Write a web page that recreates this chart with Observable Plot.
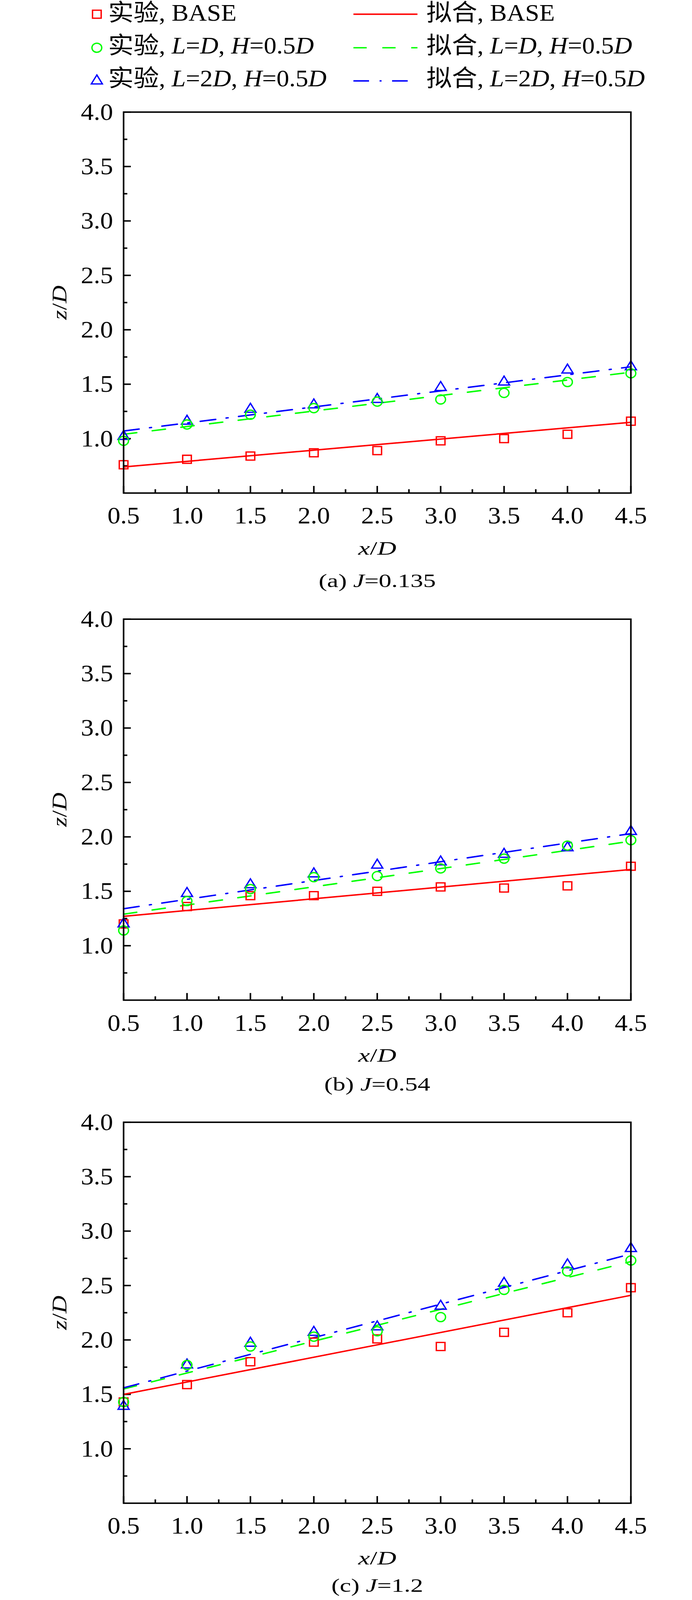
<!DOCTYPE html>
<html>
<head>
<meta charset="utf-8">
<script src="https://cdn.jsdelivr.net/npm/d3@7"></script>
<script src="https://cdn.jsdelivr.net/npm/@observablehq/plot@0.6"></script>
<style>
  html, body { margin: 0; padding: 0; background: #fff; overflow: hidden; }
  #root { position: relative; width: 1772px; height: 4389px; overflow: hidden; transform-origin: 0 0;
          font-family: "Liberation Serif", "Times New Roman", "Noto Sans CJK SC", serif; color: #000; }
  .t { position: absolute; white-space: nowrap; line-height: 0; }
  .r { position: absolute; white-space: nowrap; line-height: 1; }
  svg.leg { position: absolute; overflow: visible; }
</style>
</head>
<body>
<div id="root"></div>
<script>
// ---------------- data ----------------
const xPos = [0.5, 1.0, 1.5, 2.0, 2.5, 3.0, 3.5, 4.0, 4.5];

// panel (a) J=0.135
const baseA = [0.76, 0.81, 0.84, 0.87, 0.89, 0.98, 1.00, 1.04, 1.16];
const ldA   = [0.98, 1.13, 1.22, 1.28, 1.34, 1.36, 1.42, 1.52, 1.60];
const l2dA  = [1.02, 1.16, 1.27, 1.31, 1.36, 1.47, 1.52, 1.63, 1.66];
// panel (b) J=0.54
const baseB = [1.20, 1.36, 1.46, 1.46, 1.50, 1.54, 1.53, 1.55, 1.73];
const ldB   = [1.14, 1.41, 1.52, 1.63, 1.64, 1.71, 1.80, 1.92, 1.97];
const l2dB  = [1.20, 1.48, 1.56, 1.66, 1.74, 1.77, 1.84, 1.90, 2.05];
// panel (c) J=1.2
const baseC = [1.43, 1.59, 1.80, 1.98, 2.01, 1.94, 2.07, 2.25, 2.48];
const ldC   = [1.43, 1.77, 1.94, 2.03, 2.08, 2.21, 2.46, 2.63, 2.73];
const l2dC  = [1.39, 1.77, 1.97, 2.07, 2.12, 2.31, 2.52, 2.69, 2.84];

// fitted lines (values at x = 0.5 and x = 4.5)
const fitX = [0.5, 4.5];
const fitBaseA = [0.74, 1.15];
const fitLdA   = [1.04, 1.61];
const fitL2dA  = [1.07, 1.66];
const fitBaseB = [1.27, 1.70];
const fitLdB   = [1.29, 1.96];
const fitL2dB  = [1.34, 2.03];
const fitBaseC = [1.50, 2.41];
const fitLdC   = [1.55, 2.72];
const fitL2dC  = [1.56, 2.79];

// ticks
const xTicks = [0.5, 1.0, 1.5, 2.0, 2.5, 3.0, 3.5, 4.0, 4.5];
const xMinor = [0.75, 1.25, 1.75, 2.25, 2.75, 3.25, 3.75, 4.25];
const yTicks = [1.0, 1.5, 2.0, 2.5, 3.0, 3.5, 4.0];
const yMinor = [0.75, 1.25, 1.75, 2.25, 2.75, 3.25, 3.75];

// series / panels
const seriesColors = ["#ff0000", "#00ff00", "#0000ff"];
const seriesSymbols = ["square", "circle", "triangle"];
const expPrefix = "实验";
const fitPrefix = "拟合";
const seriesLabelsHtml = ["BASE", "<i>L</i>=<i>D</i>, <i>H</i>=0.5<i>D</i>", "<i>L</i>=2<i>D</i>, <i>H</i>=0.5<i>D</i>"];
const panelLetters = ["a", "b", "c"];
const panelJ = ["0.135", "0.54", "1.2"];

const panelExp = [[baseA, ldA, l2dA], [baseB, ldB, l2dB], [baseC, ldC, l2dC]];
const panelFit = [[fitBaseA, fitLdA, fitL2dA], [fitBaseB, fitLdB, fitL2dB], [fitBaseC, fitLdC, fitL2dC]];

// ---------------- layout / style ----------------
const W = 1772, H = 4389, ML = 316, MR = 157, MT = 30, IH = 1045, MB = 110;
const IW = W - ML - MR;
const frameTops = [307, 1698, 3078];
const xLabelOff = [171, 170, 170];
const capOff = [259, 250, 245];
const fontMain = '"Liberation Serif", "Times New Roman", "Noto Sans CJK SC", serif';
const dashes = [null, "34,40", "40,27,5,27"];
const radii = [12.5, 12.5, 10.5];

const root = document.getElementById("root");
// fit the full-height layout into the available viewport (vertical only)
const fitK = Math.min(1, (window.innerHeight || H) / H);
root.style.transform = "scale(1," + fitK + ")";

function addText(html, x, baseline, fs, extra) {
  const d = document.createElement("div");
  d.className = "t";
  d.style.fontSize = fs + "px";
  d.style.left = x + "px";
  d.style.top = (baseline - 0.3375 * fs) + "px";
  if (extra) Object.assign(d.style, extra);
  d.innerHTML = html;
  root.appendChild(d);
  return d;
}

function panel(p) {
  const exp = [];
  const fits = [];
  for (let s = 0; s < 3; s++) {
    panelExp[p][s].forEach((v, j) => exp.push({x: xPos[j], y: v, s}));
    fits.push(fitX.map((x, k) => ({x, y: panelFit[p][s][k], s})));
  }
  const dotOrder = [0, 2, 1];
  return Plot.plot({
    width: W,
    height: MT + IH + MB,
    marginLeft: ML, marginRight: MR, marginTop: MT, marginBottom: MB,
    style: {fontFamily: fontMain, fontSize: "66px", background: "transparent", overflow: "visible", color: "#000"},
    x: {domain: [0.5, 4.5], label: null},
    y: {domain: [0.5, 4.0], label: null},
    marks: [
      Plot.axisX(xTicks, {tickSize: 0, tickPadding: 37, tickFormat: d => d.toFixed(1), fontSize: 66, label: null}),
      Plot.axisY(yTicks, {tickSize: 0, tickPadding: 27, tickFormat: d => d.toFixed(1), fontSize: 66, label: null}),
      Plot.tickX(xTicks, {x: d => d, insetTop: IH - 19, stroke: "#000", strokeWidth: 4}),
      Plot.tickX(xMinor, {x: d => d, insetTop: IH - 10, stroke: "#000", strokeWidth: 4}),
      Plot.tickY(yTicks, {y: d => d, insetRight: IW - 19, stroke: "#000", strokeWidth: 4}),
      Plot.tickY(yMinor, {y: d => d, insetRight: IW - 10, stroke: "#000", strokeWidth: 4}),
      ...fits.map((f, s) => Plot.line(f, {x: "x", y: "y", stroke: seriesColors[s], strokeWidth: 4,
                                            strokeDasharray: dashes[s] || undefined})),
      ...dotOrder.map(s => Plot.dot(exp.filter(d => d.s === s), {x: "x", y: "y", symbol: seriesSymbols[s],
                                      r: radii[s], stroke: seriesColors[s], fill: "none", strokeWidth: 3.5})),
      Plot.frame({stroke: "#000", strokeWidth: 4})
    ]
  });
}

// panels
for (let p = 0; p < 3; p++) {
  const svg = panel(p);
  svg.style.position = "absolute";
  svg.style.left = "0px";
  svg.style.top = (frameTops[p] - MT) + "px";
  root.appendChild(svg);

  const frameBottom = frameTops[p] + IH;
  const cx = ML + IW / 2;
  addText("<i>x</i>/<i>D</i>", cx, frameBottom + xLabelOff[p], 52,
          {transform: "translateX(-50%) scaleX(1.3)"});
  addText("(" + panelLetters[p] + ") <i>J</i>=" + panelJ[p], cx, frameBottom + capOff[p], 52,
          {transform: "translateX(-50%) scaleX(1.25)"});
  const yl = document.createElement("div");
  yl.className = "r";
  yl.style.fontSize = "52px";
  yl.style.left = "153px";
  yl.style.top = (frameTops[p] + IH / 2) + "px";
  yl.style.transform = "translate(-50%, -50%) rotate(-90deg) scaleX(1.3)";
  yl.innerHTML = "<i>z</i>/<i>D</i>";
  root.appendChild(yl);
}

// ---------------- legend ----------------
const legRowsCenter = [39, 131, 222];
const legRowsBase = [57, 147, 237];
const NS = "http://www.w3.org/2000/svg";
for (let s = 0; s < 3; s++) {
  const ms = document.createElementNS(NS, "svg");
  ms.setAttribute("class", "leg");
  ms.setAttribute("width", 40); ms.setAttribute("height", 40);
  ms.style.left = (248 - 20) + "px";
  ms.style.top = (legRowsCenter[s] - 20) + "px";
  const sym = [d3.symbolSquare, d3.symbolCircle, d3.symbolTriangle][s];
  const path = document.createElementNS(NS, "path");
  path.setAttribute("d", d3.symbol(sym, Math.PI * radii[s] * radii[s])());
  path.setAttribute("transform", "translate(20,20)");
  path.setAttribute("fill", "none");
  path.setAttribute("stroke", seriesColors[s]);
  path.setAttribute("stroke-width", 3.5);
  ms.appendChild(path);
  root.appendChild(ms);
  addText(expPrefix + ", " + seriesLabelsHtml[s], 277, legRowsBase[s], 65);

  const ls = document.createElementNS(NS, "svg");
  ls.setAttribute("class", "leg");
  ls.setAttribute("width", 164); ls.setAttribute("height", 10);
  ls.style.left = "905px";
  ls.style.top = (legRowsCenter[s] - 5) + "px";
  const ln = document.createElementNS(NS, "line");
  ln.setAttribute("x1", 0); ln.setAttribute("x2", 164);
  ln.setAttribute("y1", 5); ln.setAttribute("y2", 5);
  ln.setAttribute("stroke", seriesColors[s]);
  ln.setAttribute("stroke-width", 4);
  if (dashes[s]) ln.setAttribute("stroke-dasharray", dashes[s]);
  ls.appendChild(ln);
  root.appendChild(ls);
  addText(fitPrefix + ", " + seriesLabelsHtml[s], 1092, legRowsBase[s], 65);
}
</script>
</body>
</html>
